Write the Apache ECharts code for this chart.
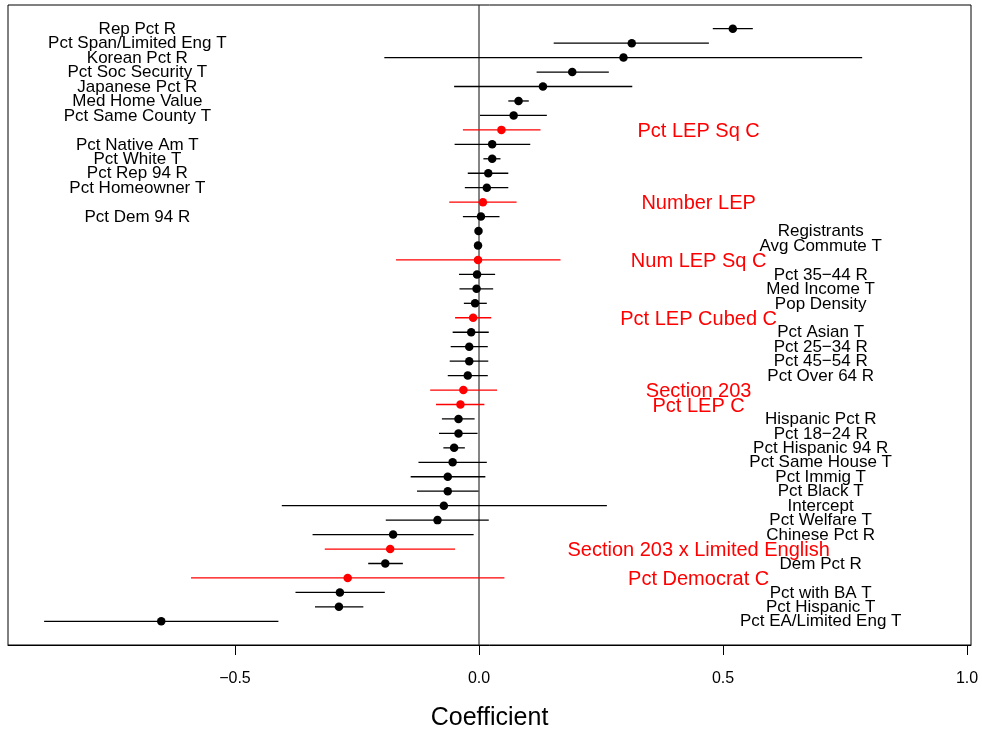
<!DOCTYPE html>
<html>
<head>
<meta charset="utf-8">
<script src="https://cdn.jsdelivr.net/npm/echarts@6/dist/echarts.min.js"></script>
<style>html,body{margin:0;padding:0;background:#fff;}#c{width:982px;height:729px;}</style>
</head>
<body>
<div id="c"></div>
<script>
// Coefficient names (top to bottom)
const names = [
  "Rep Pct R", "Pct Span/Limited Eng T", "Korean Pct R", "Pct Soc Security T",
  "Japanese Pct R", "Med Home Value", "Pct Same County T", "Pct LEP Sq C",
  "Pct Native Am T", "Pct White T", "Pct Rep 94 R", "Pct Homeowner T",
  "Number LEP", "Pct Dem 94 R", "Registrants", "Avg Commute T",
  "Num LEP Sq C", "Pct 35\u221244 R", "Med Income T", "Pop Density",
  "Pct LEP Cubed C", "Pct Asian T", "Pct 25\u221234 R", "Pct 45\u221254 R",
  "Pct Over 64 R", "Section 203", "Pct LEP C", "Hispanic Pct R",
  "Pct 18\u221224 R", "Pct Hispanic 94 R", "Pct Same House T", "Pct Immig T",
  "Pct Black T", "Intercept", "Pct Welfare T", "Chinese Pct R",
  "Section 203 x Limited English", "Dem Pct R", "Pct Democrat C", "Pct with BA T",
  "Pct Hispanic T", "Pct EA/Limited Eng T"
];
// Point estimates
const estimates = [
  0.520, 0.313, 0.296, 0.191, 0.131, 0.081, 0.071, 0.046,
  0.027, 0.027, 0.019, 0.016, 0.008, 0.004, -0.001, -0.002,
  -0.002, -0.004, -0.005, -0.008, -0.012, -0.016, -0.020, -0.020,
  -0.023, -0.032, -0.038, -0.042, -0.042, -0.051, -0.054, -0.064,
  -0.064, -0.072, -0.085, -0.176, -0.182, -0.192, -0.269, -0.285,
  -0.287, -0.651
];
// Lower interval bounds
const lower = [
  0.479, 0.153, -0.194, 0.118, -0.051, 0.060, 0.002, -0.033,
  -0.050, 0.009, -0.023, -0.029, -0.061, -0.033, -0.002, -0.003,
  -0.170, -0.041, -0.040, -0.031, -0.049, -0.054, -0.058, -0.060,
  -0.064, -0.100, -0.088, -0.076, -0.082, -0.073, -0.124, -0.140,
  -0.127, -0.404, -0.191, -0.341, -0.316, -0.227, -0.590, -0.376,
  -0.336, -0.891
];
// Upper interval bounds
const upper = [
  0.561, 0.471, 0.785, 0.266, 0.314, 0.102, 0.139, 0.126,
  0.105, 0.044, 0.060, 0.060, 0.077, 0.042, 0.000, -0.001,
  0.167, 0.033, 0.029, 0.016, 0.025, 0.020, 0.018, 0.019,
  0.018, 0.037, 0.011, -0.009, -0.003, -0.029, 0.016, 0.013,
  -0.001, 0.262, 0.020, -0.011, -0.049, -0.156, 0.052, -0.193,
  -0.237, -0.411
];
// Highlighted (red) coefficients
const highlighted = [
  0,0,0,0,0,0,0,1, 0,0,0,0,1,0,0,0, 1,0,0,0,1,0,0,0, 0,1,1,0,0,0,0,0, 0,0,0,0,1,0,1,0, 0,0
];
// Axis tick values
const tickValues = [-0.5, 0.0, 0.5, 1.0];

const RED = '#FF0000', BLACK = '#000000';
const FONT = "'Liberation Sans', Arial, Helvetica, sans-serif";
const rows = names.map((_, i) => i + 1);

const ciData = rows.map((r, i) => [lower[i], r, upper[i], highlighted[i]]);
const ptData = rows.map((r, i) => [estimates[i], r]);
// label anchor: highlighted terms in the middle-right, top terms left, the rest right
const labelData = rows.map((r, i) => {
  const xPos = highlighted[i] ? 0.45 : (r <= 14 ? -0.7 : 0.7);
  return [xPos, r, highlighted[i]];
});

const chart = echarts.init(document.getElementById('c'), null, {renderer: 'canvas'});
chart.setOption({
  animation: false,
  backgroundColor: '#fff',
  grid: {left: 8, right: 11, top: 5, bottom: 84, outerBoundsMode: 'none', containLabel: false,
    show: true, borderColor: '#000', borderWidth: 1, backgroundColor: 'transparent'},
  xAxis: {
    type: 'value', min: -0.965, max: 1.008, position: 'bottom',
    axisLine: {show: true, onZero: false, lineStyle: {color: '#000', width: 1}},
    splitLine: {show: false},
    axisTick: {show: true, customValues: tickValues, length: 10, lineStyle: {color: '#000', width: 1}},
    axisLabel: {customValues: tickValues, margin: 26, color: '#000', fontSize: 16, fontFamily: FONT,
      formatter: v => v.toFixed(1).replace('-', '\u2212')},
    name: 'Coefficient', nameLocation: 'middle', nameGap: 61,
    nameTextStyle: {color: '#000', fontSize: 25, fontFamily: FONT}
  },
  yAxis: {type: 'value', inverse: true, min: -0.64, max: 43.64, show: false},
  series: [
    {
      type: 'line', data: [[0, -0.64], [0, 43.64]], symbol: 'none', silent: true,
      lineStyle: {color: '#333', width: 1.2}, z: 1
    },
    {
      type: 'custom', data: ciData, encode: {x: [0, 2], y: 1}, silent: true, z: 2,
      renderItem: function (params, api) {
        const y = api.value(1);
        const a = api.coord([api.value(0), y]);
        const b = api.coord([api.value(2), y]);
        return {type: 'line', shape: {x1: a[0], y1: a[1], x2: b[0], y2: b[1]},
          style: {stroke: api.value(3) ? RED : BLACK, lineWidth: 1.3}};
      }
    },
    {
      type: 'scatter', data: ptData, symbol: 'circle', symbolSize: 8.5, z: 3, silent: true,
      itemStyle: {color: p => highlighted[p.dataIndex] ? RED : BLACK, borderWidth: 0, opacity: 1}
    },
    {
      type: 'custom', data: labelData, encode: {x: 0, y: 1}, silent: true, z: 4,
      renderItem: function (params, api) {
        const p = api.coord([api.value(0), api.value(1)]);
        const hi = api.value(2);
        return {type: 'text', x: p[0], y: p[1] + (hi ? 1.5 : 0.5),
          style: {text: names[params.dataIndex], fill: hi ? RED : BLACK,
            font: (hi ? '20px ' : '17px ') + FONT, align: 'center', verticalAlign: 'middle'}};
      }
    }
  ]
});
</script>
</body>
</html>
